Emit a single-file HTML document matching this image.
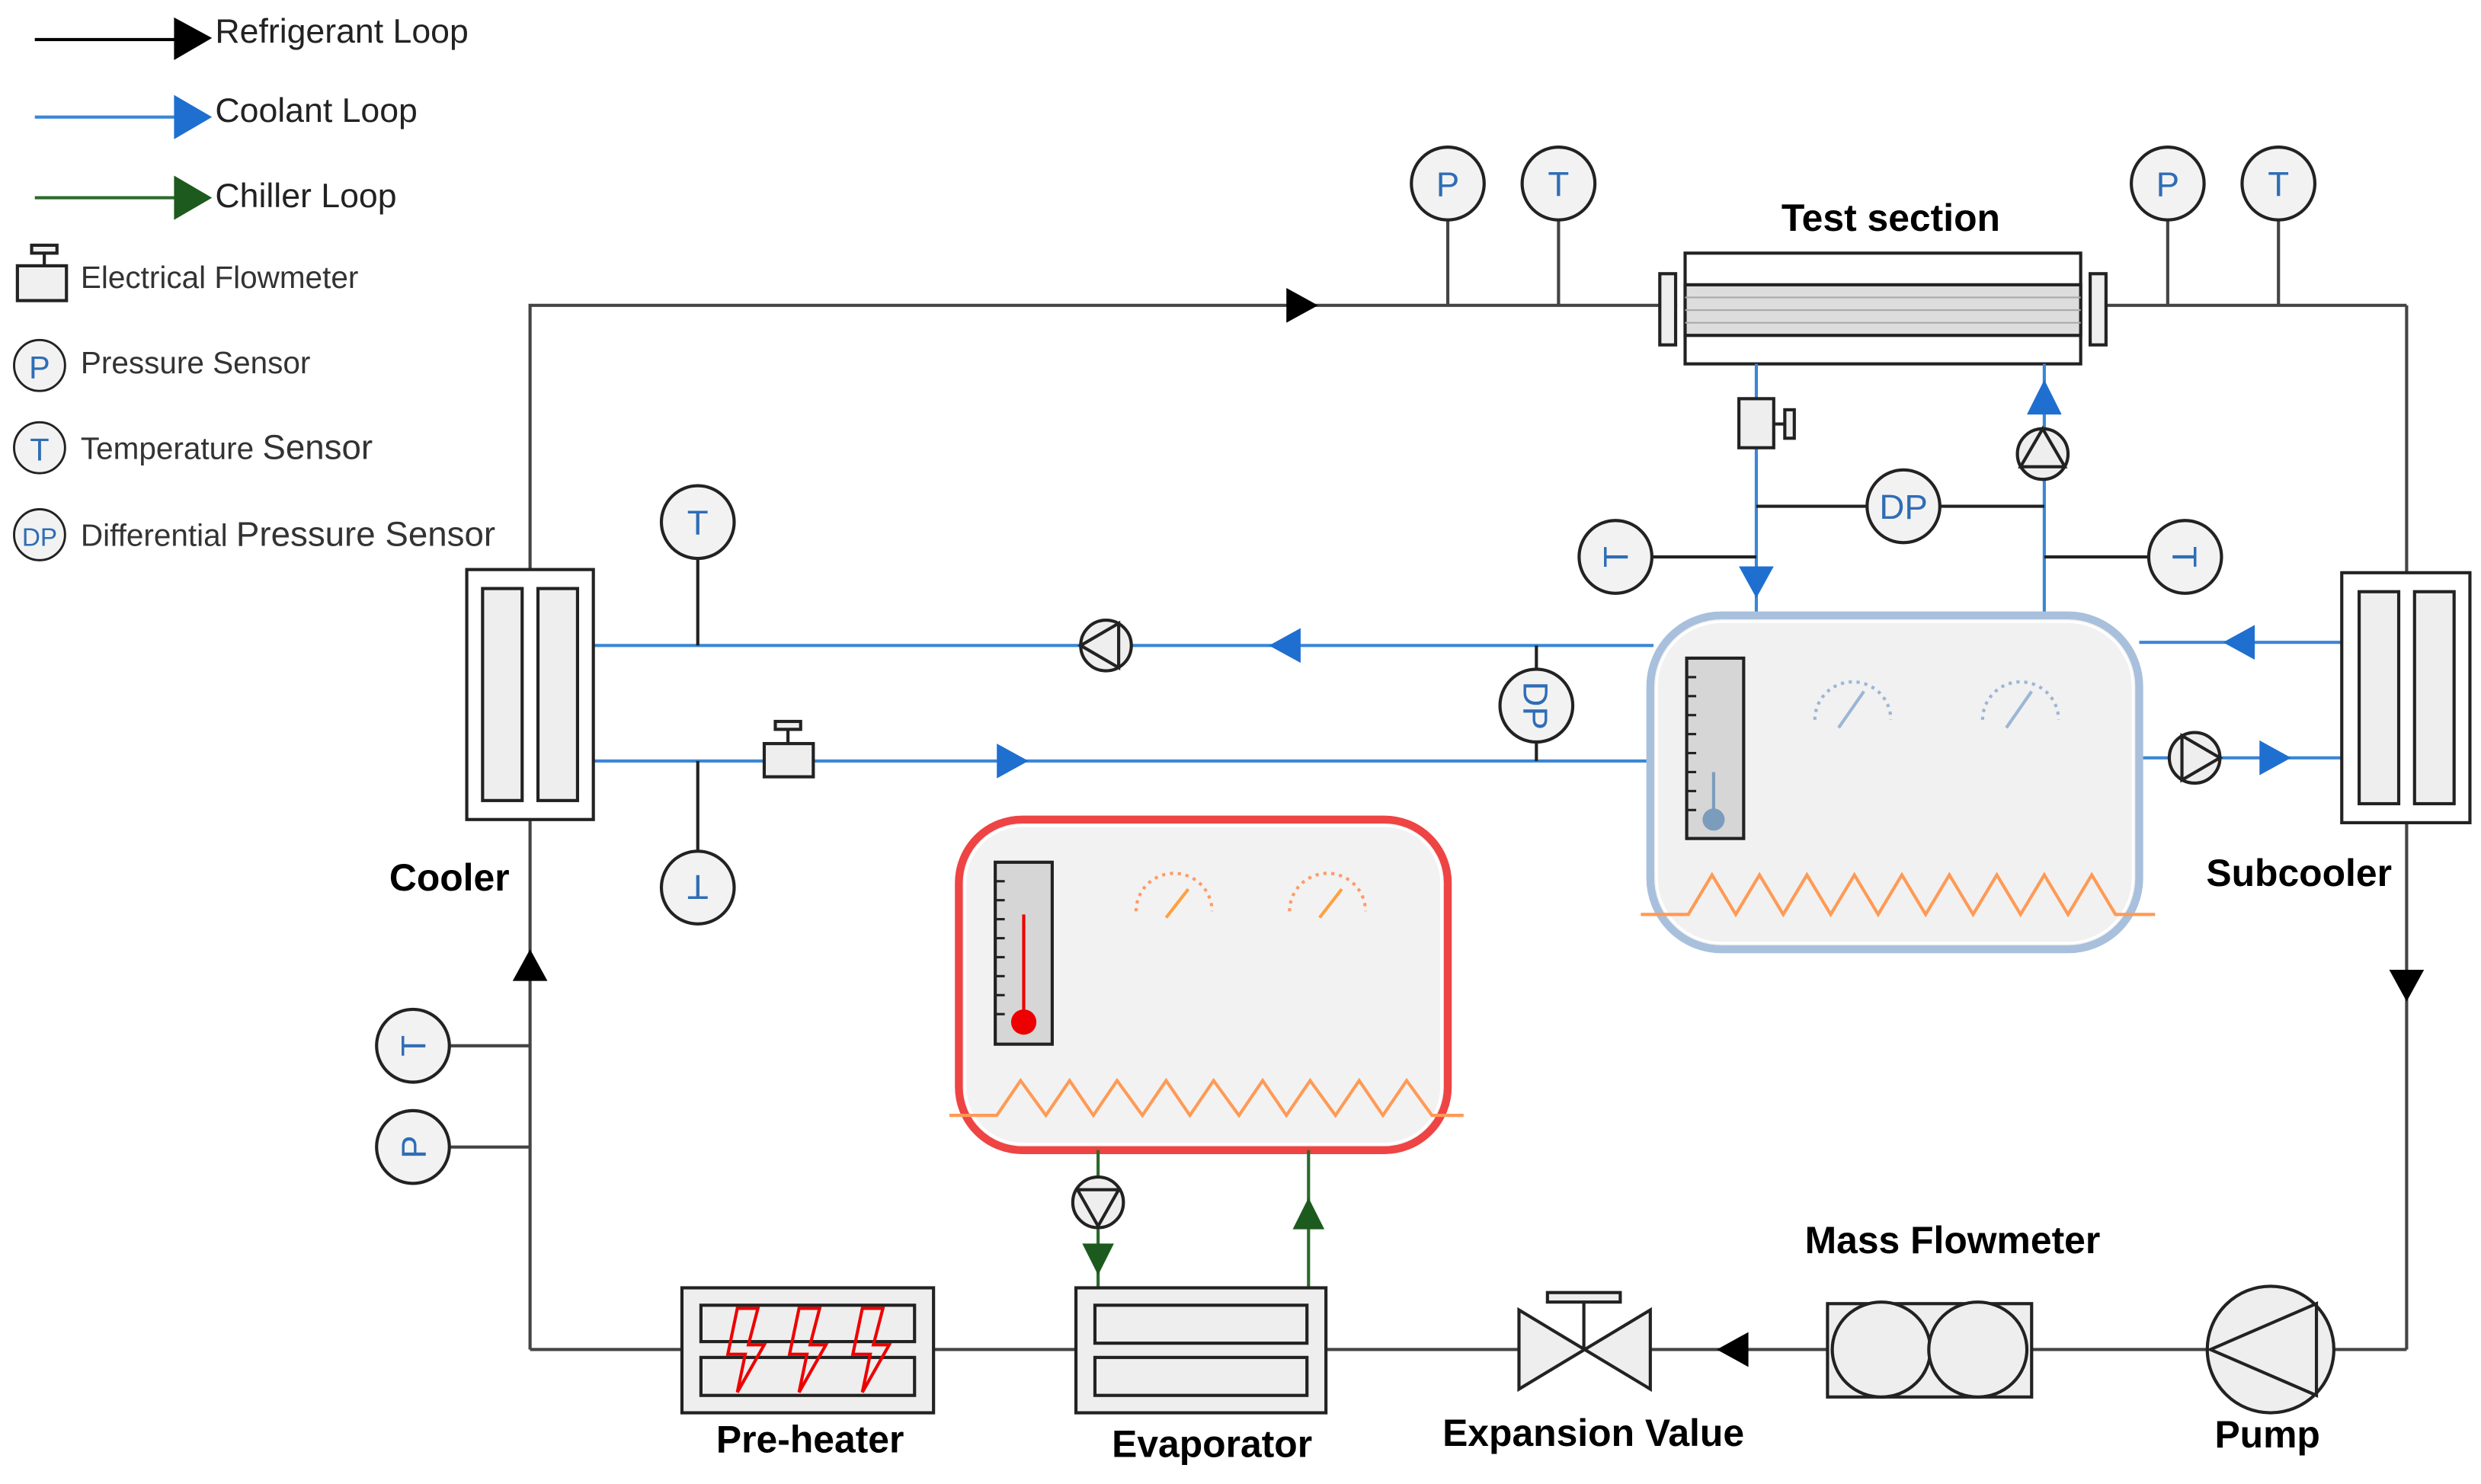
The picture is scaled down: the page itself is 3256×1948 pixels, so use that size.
<!DOCTYPE html>
<html><head><meta charset="utf-8"><style>html,body{margin:0;padding:0;background:#fff}svg{display:block}</style></head>
<body>
<svg width="3256" height="1948" viewBox="0 0 1568 938" preserveAspectRatio="none" xmlns="http://www.w3.org/2000/svg" font-family="Liberation Sans, sans-serif">
<defs>
<g id="sens"><circle r="23" fill="#f2f2f2" stroke="#222" stroke-width="2"/></g>
</defs>
<rect width="1568" height="938" fill="#fff"/>

<!-- Legend -->
<g font-size="21.5" fill="#222">
<line x1="22" y1="25" x2="112" y2="25" stroke="#000" stroke-width="2"/>
<polygon points="110,11 134,24 110,38" fill="#000"/>
<text x="136" y="27">Refrigerant Loop</text>
<line x1="22" y1="74" x2="112" y2="74" stroke="#3a86d6" stroke-width="2"/>
<polygon points="110,60 134,74 110,88" fill="#1f6fd0"/>
<text x="136" y="77">Coolant Loop</text>
<line x1="22" y1="125" x2="112" y2="125" stroke="#2b6a2b" stroke-width="2"/>
<polygon points="110,111 134,125 110,139" fill="#1d5a1d"/>
<text x="136" y="131">Chiller Loop</text>
</g>
<g stroke="#222" stroke-width="2" fill="#f0f0f0">
<rect x="20" y="155" width="16" height="5"/>
<line x1="28" y1="160" x2="28" y2="168"/>
<rect x="11" y="168" width="31" height="22"/>
</g>
<g font-size="19.5" fill="#333">
<text x="51" y="182">Electrical Flowmeter</text>
<use href="#sens" transform="translate(25,231) scale(0.7)"/>
<text x="25" y="239" font-size="20" fill="#2f6db5" text-anchor="middle">P</text>
<text x="51" y="236">Pressure Sensor</text>
<use href="#sens" transform="translate(25,283) scale(0.7)"/>
<text x="25" y="291" font-size="20" fill="#2f6db5" text-anchor="middle">T</text>
<text x="51" y="290">Temperature <tspan font-size="22">Sensor</tspan></text>
<use href="#sens" transform="translate(25,338) scale(0.7)"/>
<text x="25" y="345" font-size="16" fill="#2f6db5" text-anchor="middle">DP</text>
<text x="51" y="345">Differential <tspan font-size="22">Pressure Sensor</tspan></text>
</g>

<!-- Refrigerant loop -->
<g stroke="#444" stroke-width="2" fill="none">
<polyline points="335,360 335,193 1060,193"/>
<line x1="1330" y1="193" x2="1521" y2="193"/>
<line x1="1521" y1="193" x2="1521" y2="362"/>
<line x1="1521" y1="520" x2="1521" y2="853"/>
<line x1="335" y1="518" x2="335" y2="853"/>
<line x1="335" y1="853" x2="1521" y2="853"/>
<line x1="915" y1="139" x2="915" y2="193"/>
<line x1="985" y1="139" x2="985" y2="193"/>
<line x1="1370" y1="139" x2="1370" y2="193"/>
<line x1="1440" y1="139" x2="1440" y2="193"/>
<line x1="284" y1="661" x2="335" y2="661"/>
<line x1="284" y1="725" x2="335" y2="725"/>
</g>
<polygon points="813,182 833,193 813,204" fill="#000"/>
<polygon points="324,620 335,600 346,620" fill="#000"/>
<polygon points="1510,613 1521,633 1532,613" fill="#000"/>
<polygon points="1105,842 1085,853 1105,864" fill="#000"/>

<!-- Top sensors -->
<g font-size="22" fill="#2f6db5" text-anchor="middle">
<use href="#sens" x="915" y="116"/><text x="915" y="124">P</text>
<use href="#sens" x="985" y="116"/><text x="985" y="124">T</text>
<use href="#sens" x="1370" y="116"/><text x="1370" y="124">P</text>
<use href="#sens" x="1440" y="116"/><text x="1440" y="124">T</text>
</g>

<!-- Test section -->
<text x="1195" y="146" font-size="24" font-weight="bold" text-anchor="middle">Test section</text>
<g stroke="#222" stroke-width="2">
<rect x="1065" y="160" width="250" height="70" fill="#fff"/>
<rect x="1065" y="180" width="250" height="32" fill="#ddd"/>
<line x1="1065" y1="188" x2="1315" y2="188" stroke="#aaa" stroke-width="1"/>
<line x1="1065" y1="196" x2="1315" y2="196" stroke="#aaa" stroke-width="1"/>
<line x1="1065" y1="204" x2="1315" y2="204" stroke="#aaa" stroke-width="1"/>
<rect x="1049" y="173" width="10" height="45" fill="#eee"/>
<rect x="1321" y="173" width="10" height="45" fill="#eee"/>
</g>

<!-- Coolant lines -->
<g stroke="#3a86d6" stroke-width="2" fill="none">
<line x1="1110" y1="230" x2="1110" y2="388"/>
<line x1="1292" y1="230" x2="1292" y2="388"/>
<line x1="375" y1="408" x2="1045" y2="408"/>
<line x1="375" y1="481" x2="1045" y2="481"/>
<line x1="1352" y1="406" x2="1480" y2="406"/>
<line x1="1352" y1="479" x2="1480" y2="479"/>
</g>
<g fill="#1f6fd0">
<polygon points="1099,358 1121,358 1110,378"/>
<polygon points="1281,262 1303,262 1292,240"/>
<polygon points="822,397 822,419 802,408"/>
<polygon points="630,470 630,492 650,481"/>
<polygon points="1425,395 1425,417 1405,406"/>
<polygon points="1428,468 1428,490 1448,479"/>
</g>
<g stroke="#222" stroke-width="2" fill="none">
<line x1="1110" y1="320" x2="1180" y2="320"/>
<line x1="1226" y1="320" x2="1292" y2="320"/>
<line x1="1044" y1="352" x2="1110" y2="352"/>
<line x1="1292" y1="352" x2="1358" y2="352"/>
<line x1="441" y1="353" x2="441" y2="408"/>
<line x1="441" y1="481" x2="441" y2="538"/>
<line x1="971" y1="408" x2="971" y2="423"/>
<line x1="971" y1="469" x2="971" y2="481"/>
</g>
<g stroke="#222" stroke-width="2" fill="#eee">
<rect x="1099" y="252" width="22" height="31"/>
<line x1="1121" y1="268" x2="1128" y2="268"/>
<rect x="1128" y="259" width="6" height="18"/>
</g>
<g stroke="#222" stroke-width="2" fill="#eee">
<circle cx="1291" cy="287" r="16"/>
<polygon points="1291,271 1305,295 1277,295" fill="none"/>
</g>
<g font-size="22" fill="#2f6db5" text-anchor="middle">
<use href="#sens" x="1203" y="320"/><text x="1203" y="328">DP</text>
<use href="#sens" x="1021" y="352"/><text x="1021" y="360" transform="rotate(-90 1021 352)">T</text>
<use href="#sens" x="1381" y="352"/><text x="1381" y="360" transform="rotate(90 1381 352)">T</text>
<use href="#sens" x="441" y="330"/><text x="441" y="338">T</text>
<use href="#sens" x="441" y="561"/><text x="441" y="569" transform="rotate(180 441 561)">T</text>
<use href="#sens" x="971" y="446"/><text x="971" y="454" transform="rotate(90 971 446)">DP</text>
<use href="#sens" x="261" y="661"/><text x="261" y="669" transform="rotate(-90 261 661)">T</text>
<use href="#sens" x="261" y="725"/><text x="261" y="733" transform="rotate(-90 261 725)">P</text>
</g>

<g stroke="#222" stroke-width="2" fill="#eee">
<circle cx="699" cy="408" r="16"/>
<polygon points="683,408 707,394 707,422" fill="none"/>
<circle cx="1387" cy="479" r="16"/>
<polygon points="1403,479 1379,465 1379,493" fill="none"/>
<rect x="490" y="456" width="16" height="5"/>
<line x1="498" y1="461" x2="498" y2="470"/>
<rect x="483" y="470" width="31" height="21"/>
</g>

<!-- Cooler / Subcooler -->
<g stroke="#222" stroke-width="2" fill="#fff">
<rect x="295" y="360" width="80" height="158"/>
<rect x="305" y="372" width="25" height="134" fill="#eee"/>
<rect x="340" y="372" width="25" height="134" fill="#eee"/>
<rect x="1480" y="362" width="81" height="158"/>
<rect x="1491" y="374" width="25" height="134" fill="#eee"/>
<rect x="1526" y="374" width="25" height="134" fill="#eee"/>
</g>
<text x="284" y="563" font-size="24" font-weight="bold" text-anchor="middle">Cooler</text>
<text x="1453" y="560" font-size="24" font-weight="bold" text-anchor="middle">Subcooler</text>

<!-- Coolant bath -->
<rect x="1043" y="389" width="309" height="211" rx="45" fill="#f1f1f1" stroke="#a8c0dc" stroke-width="5"/>
<rect x="1047" y="393" width="301" height="203" rx="41" fill="none" stroke="#fff" stroke-width="1.5"/>
<rect x="1066" y="416" width="36" height="114" fill="#d6d6d6" stroke="#222" stroke-width="2"/>
<g stroke="#222" stroke-width="1.5">
<line x1="1066" y1="428" x2="1072" y2="428"/><line x1="1066" y1="440" x2="1072" y2="440"/><line x1="1066" y1="452" x2="1072" y2="452"/><line x1="1066" y1="464" x2="1072" y2="464"/><line x1="1066" y1="476" x2="1072" y2="476"/><line x1="1066" y1="488" x2="1072" y2="488"/><line x1="1066" y1="500" x2="1072" y2="500"/><line x1="1066" y1="512" x2="1072" y2="512"/>
</g>
<line x1="1083" y1="488" x2="1083" y2="515" stroke="#7c9cbc" stroke-width="2"/>
<circle cx="1083" cy="518" r="7" fill="#7c9cbc"/>
<g stroke="#9bb6d6" stroke-width="2" fill="none" stroke-dasharray="2,3">
<path d="M1147,455 A24,24 0 0 1 1195,455"/>
<path d="M1253,455 A24,24 0 0 1 1301,455"/>
</g>
<line x1="1162" y1="460" x2="1178" y2="437" stroke="#9bb6d6" stroke-width="2"/>
<line x1="1268" y1="460" x2="1284" y2="437" stroke="#9bb6d6" stroke-width="2"/>
<polyline points="1037,578 1067,578 1082,553 1097,578 1112,553 1127,578 1142,553 1157,578 1172,553 1187,578 1202,553 1217,578 1232,553 1247,578 1262,553 1277,578 1292,553 1307,578 1322,553 1337,578 1362,578" fill="none" stroke="#ff9a55" stroke-width="2"/>

<!-- Chiller bath -->
<rect x="606" y="518" width="309" height="209" rx="40" fill="#f2f2f2" stroke="#ee4444" stroke-width="5"/>
<rect x="610" y="522" width="301" height="201" rx="36" fill="none" stroke="#fff" stroke-width="1.5"/>
<rect x="629" y="545" width="36" height="115" fill="#d6d6d6" stroke="#222" stroke-width="2"/>
<g stroke="#222" stroke-width="1.5">
<line x1="629" y1="557" x2="635" y2="557"/><line x1="629" y1="569" x2="635" y2="569"/><line x1="629" y1="581" x2="635" y2="581"/><line x1="629" y1="593" x2="635" y2="593"/><line x1="629" y1="605" x2="635" y2="605"/><line x1="629" y1="617" x2="635" y2="617"/><line x1="629" y1="629" x2="635" y2="629"/><line x1="629" y1="641" x2="635" y2="641"/>
</g>
<line x1="647" y1="578" x2="647" y2="642" stroke="#e00" stroke-width="2"/>
<circle cx="647" cy="646" r="8" fill="#e00"/>
<g stroke="#ff9a66" stroke-width="2" fill="none" stroke-dasharray="2,3">
<path d="M718,576 A24,24 0 0 1 766,576"/>
<path d="M815,576 A24,24 0 0 1 863,576"/>
</g>
<line x1="737" y1="580" x2="751" y2="562" stroke="#ffa040" stroke-width="2"/>
<line x1="834" y1="580" x2="848" y2="562" stroke="#ffa040" stroke-width="2"/>
<polyline points="600,705 630,705 645,683 661,705 676,683 691,705 706,683 722,705 737,683 752,705 767,683 783,705 798,683 813,705 828,683 844,705 859,683 874,705 889,683 905,705 925,705" fill="none" stroke="#ff9a55" stroke-width="2"/>

<!-- Chiller loop lines -->
<g stroke="#2b6a2b" stroke-width="2">
<line x1="694" y1="727" x2="694" y2="815"/>
<line x1="827" y1="727" x2="827" y2="815"/>
</g>
<polygon points="684,786 704,786 694,806" fill="#1d5a1d"/>
<polygon points="817,777 837,777 827,757" fill="#1d5a1d"/>
<g stroke="#222" stroke-width="2" fill="#eee">
<circle cx="694" cy="760" r="16"/>
<polygon points="694,775 681,752 707,752" fill="none"/>
</g>

<!-- Bottom components -->
<g stroke="#222" stroke-width="2" fill="#eee">
<rect x="431" y="814" width="159" height="79"/>
<rect x="443" y="825" width="135" height="23"/>
<rect x="443" y="858" width="135" height="24"/>
<rect x="680" y="814" width="158" height="79"/>
<rect x="692" y="825" width="134" height="24"/>
<rect x="692" y="858" width="134" height="24"/>
</g>
<g stroke="#e00" stroke-width="2" fill="none">
<polygon points="466,827 479,827 473,850 483,850 466,880 471,856 460,856"/>
<polygon points="505,827 518,827 512,850 522,850 505,880 510,856 499,856"/>
<polygon points="545,827 558,827 552,850 562,850 545,880 550,856 539,856"/>
</g>
<g stroke="#222" stroke-width="2" fill="#eee">
<polygon points="960,828 1043,878 1043,828 960,878"/>
<line x1="1001" y1="822" x2="1001" y2="853"/>
<rect x="978" y="817" width="46" height="6"/>
<rect x="1155" y="824" width="129" height="59"/>
<ellipse cx="1189" cy="853" rx="31" ry="30"/>
<ellipse cx="1250" cy="853" rx="31" ry="30"/>
<circle cx="1435" cy="853" r="40" fill="#eee"/>
<polygon points="1397,853 1464,824 1464,882" fill="none"/>
</g>
<g font-size="24" font-weight="bold" text-anchor="middle">
<text x="512" y="918">Pre-heater</text>
<text x="766" y="921">Evaporator</text>
<text x="1007" y="914">Expansion Value</text>
<text x="1234" y="792">Mass Flowmeter</text>
<text x="1433" y="915">Pump</text>
</g>
</svg>
</body></html>
